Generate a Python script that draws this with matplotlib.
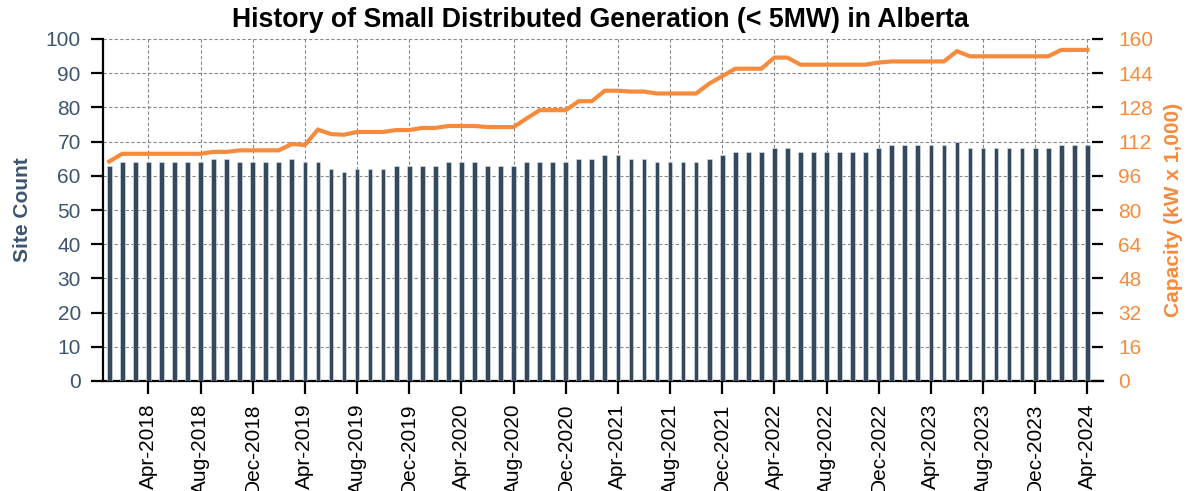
import matplotlib
matplotlib.use("Agg")
import matplotlib.pyplot as plt
import numpy as np
import pandas as pd

# ---- data ----
months = pd.date_range("2018-01-01", "2024-04-01", freq="MS")
site_count = [63, 64, 64, 64, 64, 64, 64, 64, 65, 65, 64, 64, 64, 64, 65, 64, 64, 62, 61,
              62, 62, 62, 63, 63, 63, 63, 64, 64, 64, 63, 63, 63, 64, 64, 64, 64, 65, 65,
              66, 66, 65, 65, 64, 64, 64, 64, 65, 66, 67, 67, 67, 68, 68, 67, 67, 67, 67,
              67, 67, 68, 69, 69, 69, 69, 69, 70, 68, 68, 68, 68, 68, 68, 68, 69, 69, 69]
capacity = [102.7, 106.3, 106.3, 106.3, 106.3, 106.3, 106.3, 106.3, 107.2, 107.2,
            107.9, 107.9, 107.9, 107.9, 110.9, 110.4, 117.6, 115.5, 115.2,
            116.5, 116.5, 116.5, 117.4, 117.4, 118.4, 118.4, 119.3, 119.3, 119.3,
            118.8, 118.8, 118.8, 122.8, 126.7, 126.7, 126.7, 130.9, 130.9,
            135.8, 135.8, 135.4, 135.4, 134.5, 134.5, 134.5, 134.5, 139.1, 142.6,
            146.1, 146.1, 146.1, 151.3, 151.3, 148.0, 148.0, 148.0, 148.0, 148.0, 148.0,
            149.0, 149.5, 149.5, 149.5, 149.5, 149.5, 154.3,
            151.9, 151.9, 151.9, 151.9, 151.9, 151.9, 151.9, 154.9, 154.9, 154.9]
title = "History of Small Distributed Generation (< 5MW) in Alberta"
left_label = "Site Count"
right_label = "Capacity (kW x 1,000)"

BAR = "#34495e"
LABEL = "#3d5570"
ORANGE = "#f68b3d"

plt.rcParams['font.family'] = ['Liberation Sans', 'DejaVu Sans']

fig = plt.figure(figsize=(11.93, 4.91), dpi=100)
ax = fig.add_axes([103/1193, 1 - 381/491, 1000/1193, 342/491])
x = np.arange(len(months))
ax.bar(x, site_count, width=0.36, color=BAR, edgecolor="#dfe4ea", linewidth=0.4, zorder=3)
ax.set_xlim(-0.48, len(months) - 1 + 1.2)
ax.set_ylim(0, 100)
ax.set_yticks(np.arange(0, 101, 10))
major = [i for i, m in enumerate(months) if m.month in (4, 8, 12)]
ax.set_xticks(major)
ax.set_xticklabels([months[i].strftime("%b-%Y") for i in major], rotation=90, fontsize=15)
ax.grid(True, color="#888888", linestyle=(0, (3, 2)), linewidth=0.8, zorder=0)
ax.set_axisbelow(True)
for s in ["top", "right"]:
    ax.spines[s].set_visible(False)
ax.spines["left"].set_linewidth(1.6)
ax.spines["bottom"].set_linewidth(1.6)
ax.tick_params(axis="y", labelsize=15, labelcolor=LABEL, length=9, width=1.6, pad=7)
ax.tick_params(axis="x", length=9, width=1.6, pad=7, colors="black")
ax.set_ylabel(left_label, fontsize=15, fontweight="bold", color=LABEL, labelpad=10)

ax2 = ax.twinx()
ax2.plot(x, capacity, color=ORANGE, linewidth=3, solid_joinstyle="miter", zorder=4)
ax2.set_ylim(0, 160)
ax2.set_yticks(np.arange(0, 161, 16))
for s in ["top", "right", "left", "bottom"]:
    ax2.spines[s].set_visible(False)
ax2.tick_params(axis="y", labelsize=15, labelcolor=ORANGE, color="black",
                direction="in", length=8, width=1.6, pad=11)
ax2.set_ylabel(right_label, fontsize=15, fontweight="bold", color=ORANGE, labelpad=8)

fig.suptitle(title, fontsize=19.2, fontweight="bold", x=600/1193, y=1 - 7/491, va="top")

fig.savefig("out.png", dpi=100)
